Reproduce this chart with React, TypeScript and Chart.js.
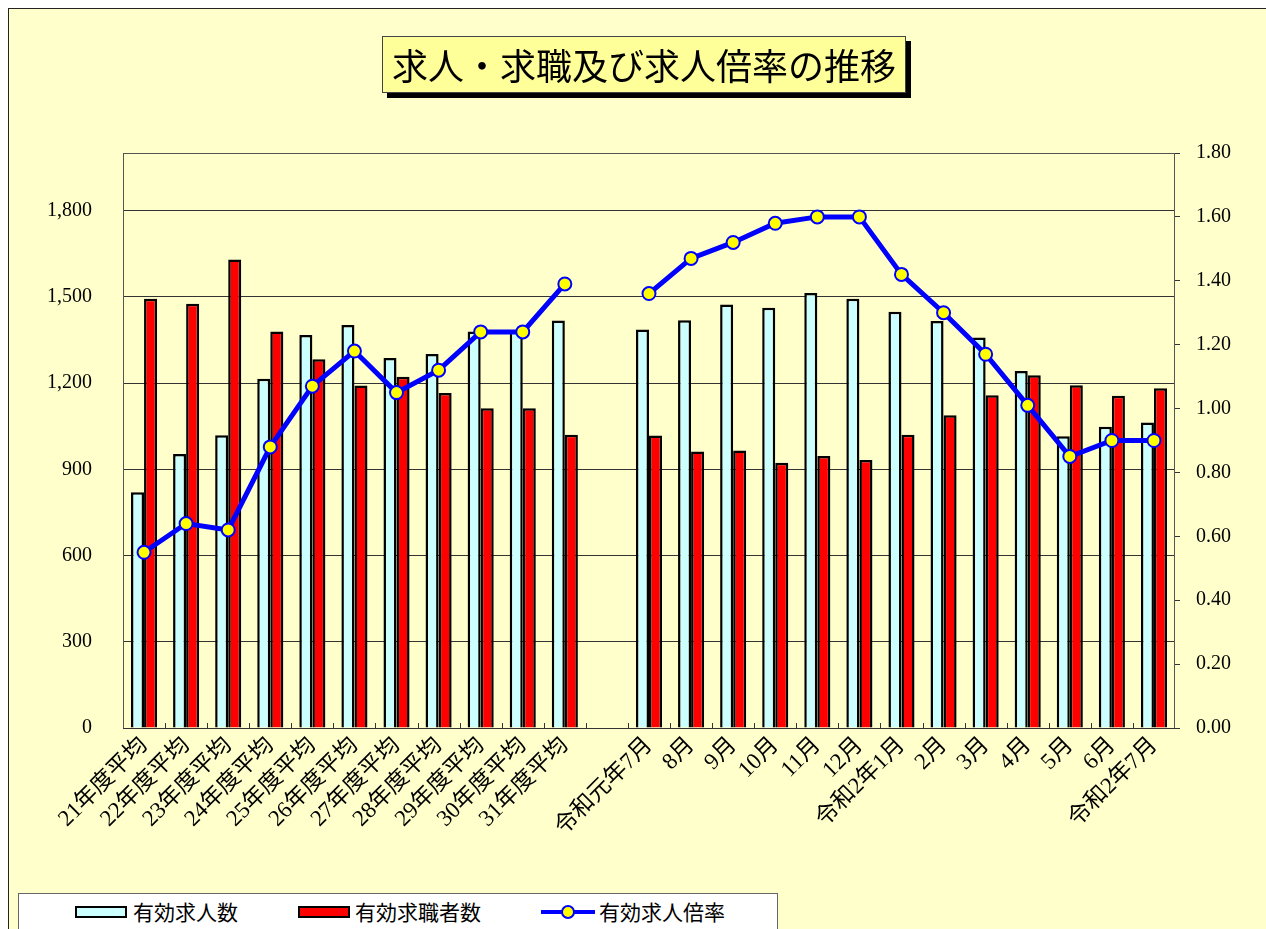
import React, { useEffect, useRef } from "react";
import { Chart, registerables } from "chart.js";

Chart.register(...registerables);

const categories = [
  "21年度平均", "22年度平均", "23年度平均", "24年度平均", "25年度平均", "26年度平均",
  "27年度平均", "28年度平均", "29年度平均", "30年度平均", "31年度平均", "",
  "令和元年7月", "8月", "9月", "10月", "11月", "12月", "令和2年1月",
  "2月", "3月", "4月", "5月", "6月", "令和2年7月",
];

const jobOffers = [
  820, 953, 1018, 1215, 1367, 1402, 1287, 1301, 1379, 1382, 1417, null,
  1386, 1418, 1473, 1462, 1513, 1493, 1448, 1416, 1358, 1242, 1015, 1048, 1063,
];

const jobSeekers = [
  1493, 1476, 1630, 1379, 1283, 1191, 1222, 1165, 1112, 1112, 1020, null,
  1017, 962, 965, 923, 946, 932, 1020, 1088, 1157, 1227, 1192, 1156, 1182,
];

const ratio = [
  0.55, 0.64, 0.62, 0.88, 1.07, 1.18, 1.05, 1.12, 1.24, 1.24, 1.39, null,
  1.36, 1.47, 1.52, 1.58, 1.6, 1.6, 1.42, 1.3, 1.17, 1.01, 0.85, 0.9, 0.9,
];

const titleText = "求人・求職及び求人倍率の推移";
const seriesNames = ["有効求人数", "有効求職者数", "有効求人倍率"];

const SERIF = '"Liberation Serif", "Noto Sans CJK JP", serif';
const SANS = '"Noto Sans CJK JP", sans-serif';

const CANVAS_W = 1248;
const CANVAS_H = 880;

const framePlugin = {
  id: "frame",
  beforeDatasetsDraw(chart: any) {
    const { ctx, chartArea } = chart;
    const { left, right, top, bottom } = chartArea;
    ctx.save();
    ctx.strokeStyle = "#555";
    ctx.lineWidth = 1;
    ctx.strokeRect(left + 0.5, top + 0.5, right - left - 1, bottom - top);
    const n = chart.data.labels.length;
    const w = (right - left) / n;
    ctx.strokeStyle = "#333";
    ctx.beginPath();
    for (let i = 1; i < n; i++) {
      const x = Math.round(left + i * w) + 0.5;
      ctx.moveTo(x, bottom - 5);
      ctx.lineTo(x, bottom);
    }
    ctx.stroke();
    ctx.restore();
  },
  afterDraw(chart: any) {
    const { ctx, chartArea } = chart;
    ctx.save();
    ctx.strokeStyle = "#333";
    ctx.lineWidth = 1;
    ctx.beginPath();
    ctx.moveTo(chartArea.left, chartArea.bottom + 0.5);
    ctx.lineTo(chartArea.right, chartArea.bottom + 0.5);
    ctx.stroke();
    ctx.restore();
  },
};

export default function App() {
  const canvasRef = useRef<HTMLCanvasElement | null>(null);

  useEffect(() => {
    if (!canvasRef.current) return;
    const chart = new Chart(canvasRef.current, {
      type: "bar",
      data: {
        labels: categories,
        datasets: [
          {
            type: "bar",
            label: seriesNames[0],
            data: jobOffers,
            backgroundColor: "#CCFFFF",
            borderColor: "#000000",
            borderWidth: 2.5,
            categoryPercentage: 0.62,
            barPercentage: 1.0,
            yAxisID: "y",
            order: 2,
          },
          {
            type: "bar",
            label: seriesNames[1],
            data: jobSeekers,
            backgroundColor: "#FF0000",
            borderColor: "#000000",
            borderWidth: 2.5,
            categoryPercentage: 0.62,
            barPercentage: 1.0,
            yAxisID: "y",
            order: 2,
          },
          {
            type: "line",
            label: seriesNames[2],
            data: ratio,
            borderColor: "#0000FF",
            borderWidth: 5,
            pointRadius: 6.5,
            pointBackgroundColor: "#FFFF00",
            pointBorderColor: "#0000FF",
            pointBorderWidth: 2,
            tension: 0,
            spanGaps: false,
            yAxisID: "y1",
            order: 0,
          },
        ],
      } as any,
      options: {
        responsive: false,
        animation: false,
        devicePixelRatio: 1,
        layout: { padding: { top: 144, left: 0, right: 0, bottom: 0 } },
        plugins: {
          legend: { display: false },
          title: { display: false },
          tooltip: { enabled: false },
        },
        scales: {
          x: {
            offset: true,
            grid: { display: false, drawTicks: false },
            border: { display: false },
            ticks: {
              autoSkip: false,
              minRotation: 45,
              maxRotation: 45,
              padding: 4,
              color: "#000",
              font: { family: SERIF, size: 23 },
            },
            afterFit(scale: any) {
              scale.height = 161;
            },
          },
          y: {
            position: "left",
            min: 0,
            max: 2000,
            ticks: {
              stepSize: 300,
              padding: 31,
              color: "#000",
              font: { family: SERIF, size: 20 },
              callback: (v: any) => Number(v).toLocaleString("en-US"),
            },
            afterBuildTicks(scale: any) {
              scale.ticks = scale.ticks.filter((t: any) => t.value <= 1800);
            },
            grid: { color: "#333", lineWidth: 1, drawTicks: false },
            border: { display: false },
            afterFit(scale: any) {
              scale.width = 114;
            },
          },
          y1: {
            position: "right",
            min: 0,
            max: 1.8,
            ticks: {
              stepSize: 0.2,
              padding: 16,
              color: "#000",
              font: { family: SERIF, size: 20 },
              callback: (v: any) => Number(v).toFixed(2),
            },
            grid: {
              drawOnChartArea: false,
              drawTicks: true,
              tickLength: 5,
              color: "#333",
            },
            border: { display: false },
            afterFit(scale: any) {
              scale.width = CANVAS_W - 1166;
            },
          },
        },
      } as any,
      plugins: [framePlugin],
    });
    return () => chart.destroy();
  }, []);

  return (
    <div
      style={{
        position: "fixed",
        left: 8,
        top: 8,
        width: 1300,
        height: 1000,
        background: "#FFFFCC",
        borderLeft: "1px solid #222",
        borderTop: "1px solid #222",
        overflow: "hidden",
      }}
    >
      <canvas
        ref={canvasRef}
        width={CANVAS_W}
        height={CANVAS_H}
        style={{ position: "absolute", left: 0, top: 0, width: CANVAS_W, height: CANVAS_H }}
      />
      <div
        style={{
          position: "absolute",
          left: 373,
          top: 27,
          width: 524,
          height: 57,
          boxSizing: "border-box",
          background: "#FFFF99",
          border: "1px solid #444",
          boxShadow: "5px 5px 0 #000",
          textAlign: "center",
          fontFamily: SANS,
          fontSize: 36,
          lineHeight: "55px",
          color: "#000",
          whiteSpace: "nowrap",
        }}
      >
        {titleText}
      </div>
      <div
        style={{
          position: "absolute",
          left: 9,
          top: 884,
          width: 760,
          height: 80,
          boxSizing: "border-box",
          background: "#FFFFFF",
          border: "1px solid #666",
          fontFamily: SANS,
          fontSize: 21,
          color: "#000",
        }}
      >
        <div style={{ position: "absolute", left: 56, top: 12, width: 52, height: 12, boxSizing: "border-box", background: "#CCFFFF", border: "2px solid #000" }} />
        <div style={{ position: "absolute", left: 114, top: 3, lineHeight: "28px", whiteSpace: "nowrap" }}>{seriesNames[0]}</div>
        <div style={{ position: "absolute", left: 279, top: 12, width: 52, height: 12, boxSizing: "border-box", background: "#FF0000", border: "2px solid #000" }} />
        <div style={{ position: "absolute", left: 336, top: 3, lineHeight: "28px", whiteSpace: "nowrap" }}>{seriesNames[1]}</div>
        <div style={{ position: "absolute", left: 522, top: 16, width: 54, height: 4, background: "#0000FF" }} />
        <div style={{ position: "absolute", left: 542, top: 11, width: 14, height: 14, boxSizing: "border-box", borderRadius: "50%", background: "#FFFF00", border: "2px solid #0000FF" }} />
        <div style={{ position: "absolute", left: 580, top: 3, lineHeight: "28px", whiteSpace: "nowrap" }}>{seriesNames[2]}</div>
      </div>
    </div>
  );
}
